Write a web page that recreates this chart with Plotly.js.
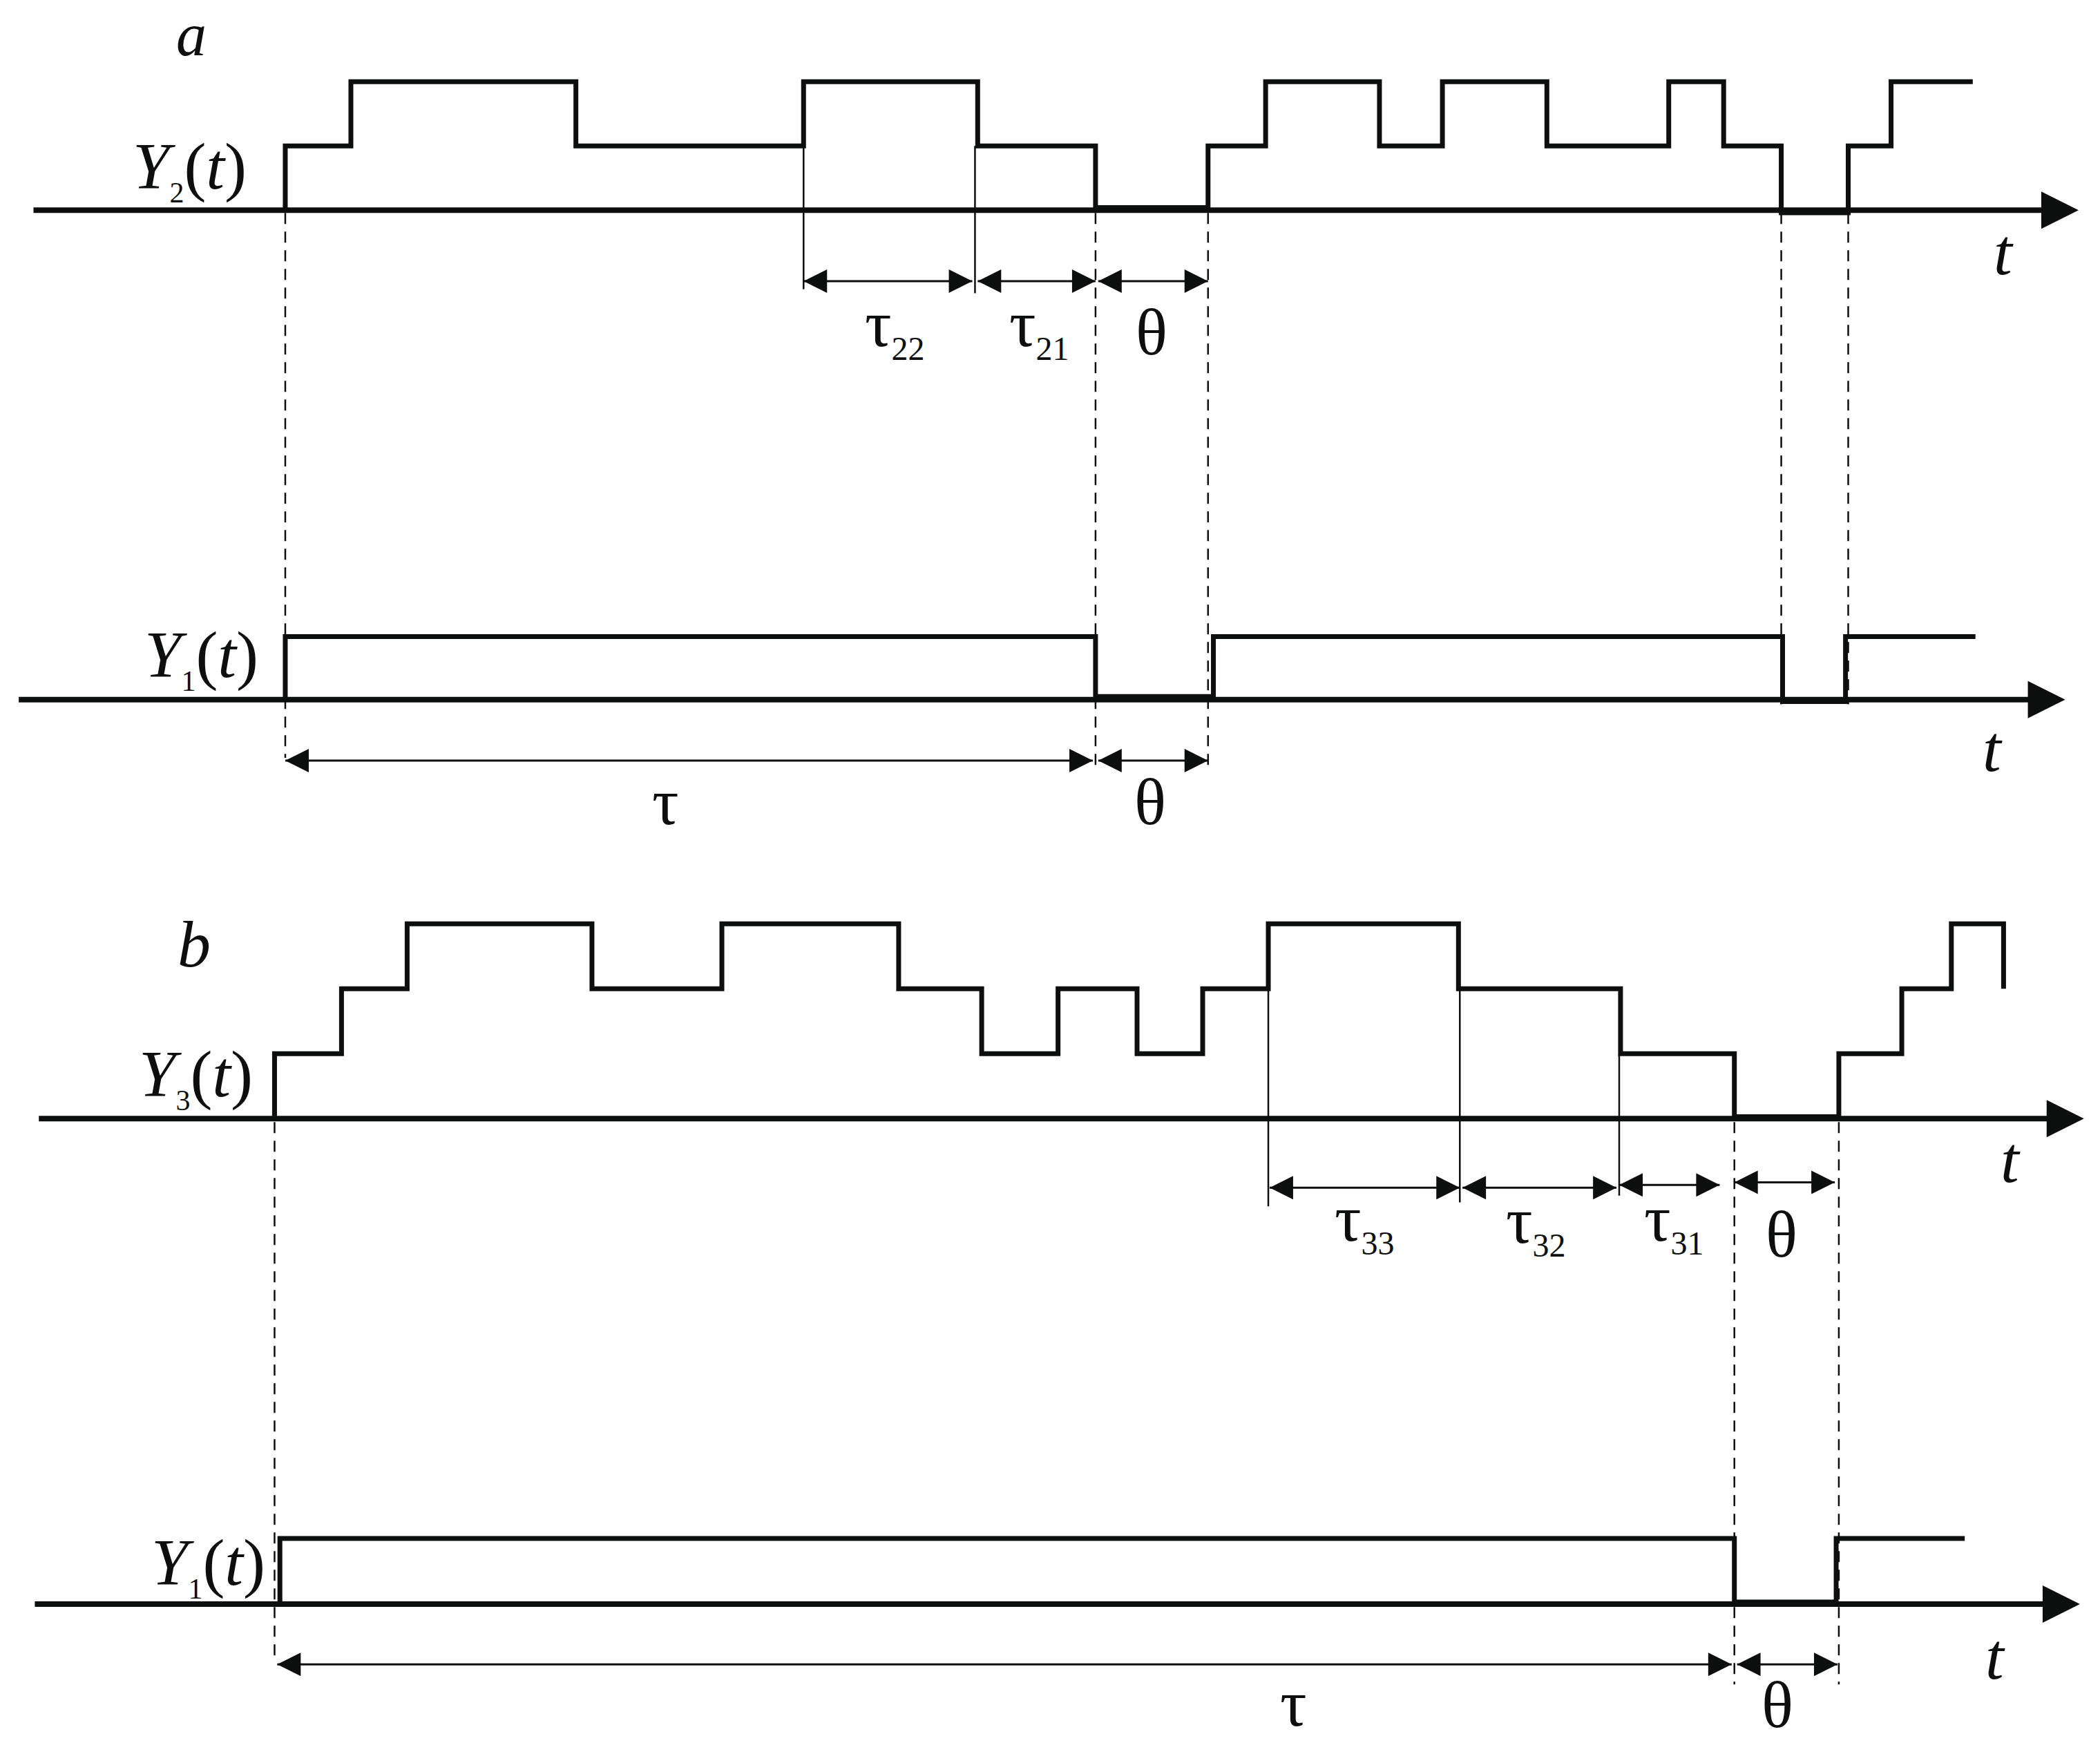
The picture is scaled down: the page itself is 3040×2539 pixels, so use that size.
<!DOCTYPE html>
<html><head><meta charset="utf-8">
<script src="https://cdn.plot.ly/plotly-3.0.1.min.js"></script>
<style>html,body{margin:0;padding:0;background:#fff}</style>
</head><body><div id="chart" style="width:3040px;height:2539px"></div>
<script>
// ================= DATA (time in picture time-units, levels in signal units) =================
// Panel a : Y2(t)
const aY2_times  = [213, 262, 430, 600, 730, 818, 902, 945, 1030, 1077, 1155, 1246, 1287, 1330, 1380, 1412];
const aY2_levels = [1, 2, 1, 2, 1, 0.04, 1, 2, 1, 2, 1, 2, 1, -0.04, 1, 2];
const aY2_end = 1473;
// Panel a : Y1(t)
const aY1_times  = [213, 818, 906, 1331, 1378];
const aY1_levels = [1, 0.05, 1, -0.03, 1];
const aY1_end = 1475;
// Panel b : Y3(t)
const bY3_times  = [205, 255, 304, 442, 539, 671, 733, 790, 849, 898, 947, 1089, 1210, 1295, 1373, 1420, 1457, 1496];
const bY3_levels = [1, 2, 3, 2, 3, 2, 1, 2, 1, 2, 3, 2, 1, 0.03, 1, 2, 3, 2];
const bY3_end = 1496;
// Panel b : Y1(t)
const bY1_times  = [209, 1295, 1371];
const bY1_levels = [1, 0.03, 1];
const bY1_end = 1467;

// time axes (start, arrow tip)
const axisSpan = {aY2: [25, 1552], aY1: [14, 1542], bY3: [29, 1556], bY1: [26, 1553]};

// measured intervals [start, end] and their labels
const aY2_intervals = [[600, 726], [730, 818], [820, 902]];
const aY2_intLabels = ['τ<sub><span style="font-size:48px">22</span></sub>', 'τ<sub><span style="font-size:48px">21</span></sub>', 'θ'];
const aY1_intervals = [[213, 816], [820, 902]];
const aY1_intLabels = ['τ', 'θ'];
const bY3_intervals = [[948, 1090], [1092, 1207], [1209, 1284], [1295, 1370]];
const bY3_intLabels = ['τ<sub><span style="font-size:48px">33</span></sub>', 'τ<sub><span style="font-size:48px">32</span></sub>', 'τ<sub><span style="font-size:48px">31</span></sub>', 'θ'];
const bY1_intervals = [[207, 1293], [1297, 1372]];
const bY1_intLabels = ['τ', 'θ'];

// dashed guide times
const aGuidesLong  = [213, 818, 902];
const aGuidesShort = [1330, 1380];
const bGuidesLong  = [205];
const bGuidesTheta = [1295, 1373];
// thin solid boundary lines: [time, level where they start]
const aBoundaries = [[600, 1], [728, 1]];
const bBoundaries = [[947, 2], [1090, 2], [1209, 1]];

// ================= LAYOUT GEOMETRY =================
const W = 1568, H = 1310;            // picture units
const rows = {
  aY2: {p0: 157,   u: 48,   ax: 'y'},
  aY1: {p0: 522.5, u: 47,   ax: 'y2'},
  bY3: {p0: 835.5, u: 48.5, ax: 'y3'},
  bY1: {p0: 1198,  u: 49,   ax: 'y4'}
};
function lv(r, p) { return (rows[r].p0 - p) / rows[r].u; }   // picture position -> row units
const INK = '#0d0f0e';
const traces = [];

function stepTrace(times, levels, end, r) {
  const x = [times[0]], y = [0];
  for (let i = 0; i < times.length; i++) { x.push(times[i]); y.push(levels[i]); }
  if (end > times[times.length - 1]) { x.push(end); y.push(levels[levels.length - 1]); }
  return {type: 'scatter', mode: 'lines', x: x, y: y, yaxis: rows[r].ax,
          line: {shape: 'hv', color: INK, width: 7}, hoverinfo: 'skip', showlegend: false};
}
function axisTraces(r) {
  const s = axisSpan[r];
  traces.push({type: 'scatter', mode: 'lines', x: [s[0], s[1] - 10], y: [0, 0], yaxis: rows[r].ax,
               line: {color: INK, width: 8}, hoverinfo: 'skip', showlegend: false});
  traces.push({type: 'scatter', mode: 'markers', x: [s[1]], y: [0], yaxis: rows[r].ax,
               marker: {symbol: 'arrow-right', size: 54, color: INK}, hoverinfo: 'skip', showlegend: false});
}
function dimTraces(r, intervals, ys) {
  intervals.forEach(function (iv, i) {
    const yy = lv(r, ys[i]);
    traces.push({type: 'scatter', mode: 'lines+markers', x: [iv[0], iv[1]], y: [yy, yy], yaxis: rows[r].ax,
                 line: {color: INK, width: 3},
                 marker: {symbol: ['arrow-left', 'arrow-right'], size: 34, color: INK},
                 hoverinfo: 'skip', showlegend: false});
  });
}
function guideTrace(r, times, pTop, pBot) {
  const x = [], y = [];
  times.forEach(function (t) { x.push(t, t, null); y.push(lv(r, pTop), lv(r, pBot), null); });
  traces.push({type: 'scatter', mode: 'lines', x: x, y: y, yaxis: rows[r].ax,
               line: {color: INK, width: 2.5, dash: '16px,11px'}, hoverinfo: 'skip', showlegend: false});
}
function boundaryTrace(r, items, pBots) {
  const x = [], y = [];
  items.forEach(function (b, i) { x.push(b[0], b[0], null); y.push(b[1], lv(r, pBots[i]), null); });
  traces.push({type: 'scatter', mode: 'lines', x: x, y: y, yaxis: rows[r].ax,
               line: {color: INK, width: 2.5}, hoverinfo: 'skip', showlegend: false});
}

// guides first (underneath)
guideTrace('aY2', [aGuidesLong[0]], 159, 566);
guideTrace('aY2', aGuidesLong.slice(1), 159, 574);
guideTrace('aY2', aGuidesShort, 159, 526);
guideTrace('bY3', bGuidesLong, 838, 1240);
guideTrace('bY3', bGuidesTheta, 838, 1258);
boundaryTrace('aY2', aBoundaries, [216, 219]);
boundaryTrace('bY3', bBoundaries, [901, 898, 893]);

['aY2', 'aY1', 'bY3', 'bY1'].forEach(axisTraces);
traces.push(stepTrace(aY2_times, aY2_levels, aY2_end, 'aY2'));
traces.push(stepTrace(aY1_times, aY1_levels, aY1_end, 'aY1'));
traces.push(stepTrace(bY3_times, bY3_levels, bY3_end, 'bY3'));
traces.push(stepTrace(bY1_times, bY1_levels, bY1_end, 'bY1'));

dimTraces('aY2', aY2_intervals, [210, 210, 210]);
dimTraces('aY1', aY1_intervals, [568, 568]);
dimTraces('bY3', bY3_intervals, [887, 887, 885, 883]);
dimTraces('bY1', bY1_intervals, [1243, 1243]);

// ================= TEXT =================
const FONT = 'Liberation Serif, Times New Roman, serif';
function ylab(n) { return '<i>Y</i><sub><span style="font-size:42px">' + n + '</span></sub>(<i>t</i>)'; }
// [text, x, y, xanchor, yanchor, size]
const texts = [
  ['<i>a</i>', 143, 0, 'center', 'top', 88],
  ['<i>b</i>', 145, 705, 'center', 'middle', 96],
  [ylab(2), 185, 126, 'right', 'middle', 96],
  [ylab(1), 194, 491, 'right', 'middle', 96],
  [ylab(3), 190, 804, 'right', 'middle', 96],
  [ylab(1), 199, 1169, 'right', 'middle', 96],
  ['<i>t</i>', 1496, 188, 'center', 'middle', 96],
  ['<i>t</i>', 1488, 559, 'center', 'middle', 96],
  ['<i>t</i>', 1501, 866, 'center', 'middle', 96],
  ['<i>t</i>', 1490, 1237, 'center', 'middle', 96],
  [aY2_intLabels[0], 668, 244, 'center', 'middle', 96],
  [aY2_intLabels[1], 776, 244, 'center', 'middle', 96],
  [aY2_intLabels[2], 860, 248, 'center', 'middle', 96],
  [aY1_intLabels[0], 497, 599, 'center', 'middle', 96],
  [aY1_intLabels[1], 859, 599, 'center', 'middle', 96],
  [bY3_intLabels[0], 1019, 912, 'center', 'middle', 96],
  [bY3_intLabels[1], 1147, 914, 'center', 'middle', 96],
  [bY3_intLabels[2], 1250, 912, 'center', 'middle', 96],
  [bY3_intLabels[3], 1330, 922, 'center', 'middle', 96],
  [bY1_intLabels[0], 966, 1272, 'center', 'middle', 96],
  [bY1_intLabels[1], 1327, 1273, 'center', 'middle', 96]
];
const annotations = texts.map(function (t) {
  return {text: t[0], xref: 'paper', yref: 'paper', x: t[1] / W, y: 1 - t[2] / H,
          xanchor: t[3], yanchor: t[4], showarrow: false,
          font: {family: FONT, size: t[5], color: INK}};
});

function yax(r, extra) {
  const o = {range: [-(H - rows[r].p0) / rows[r].u, rows[r].p0 / rows[r].u], domain: [0, 1],
             visible: false, showgrid: false, zeroline: false, fixedrange: true};
  return Object.assign(o, extra || {});
}
const layout = {
  width: 3040, height: 2539,
  margin: {l: 0, r: 0, t: 0, b: 0, pad: 0},
  paper_bgcolor: '#ffffff', plot_bgcolor: '#ffffff',
  showlegend: false,
  xaxis: {range: [0, W], domain: [0, 1], visible: false, showgrid: false, zeroline: false, fixedrange: true},
  yaxis: yax('aY2'),
  yaxis2: yax('aY1', {overlaying: 'y'}),
  yaxis3: yax('bY3', {overlaying: 'y'}),
  yaxis4: yax('bY1', {overlaying: 'y'}),
  annotations: annotations
};
Plotly.newPlot('chart', traces, layout, {staticPlot: true, displayModeBar: false});
</script>
</body></html>
